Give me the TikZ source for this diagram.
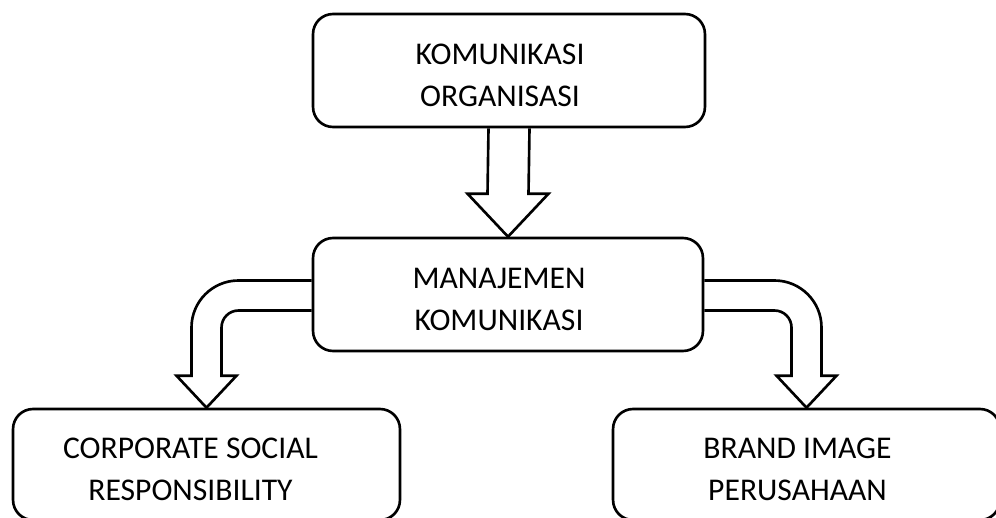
\documentclass[tikz,border=0pt]{standalone}
\usepackage{fontspec}
\setmainfont{Carlito}
\usetikzlibrary{calc}
\tikzset{
  box/.style={draw, line width=1.5pt, rounded corners=0.4cm},
  boxtext/.style={align=center, xshift=-0.18cm, yshift=-0.1cm, font=\fontsize{18}{24}\selectfont},
  blockarrow/.style={draw, line width=1.5pt, line join=miter}
}
\begin{document}
\begin{tikzpicture}[x=0.02cm, y=-0.02cm]
  \useasboundingbox (0,0) rectangle (996,517);
  \clip (0,0) rectangle (996,517);

  \node[box, minimum width=7.84cm, minimum height=2.26cm, label={[boxtext]center:KOMUNIKASI\\ORGANISASI}] (komorg) at (509,70.5) {};
  \node[box, minimum width=7.8cm, minimum height=2.26cm, label={[boxtext]center:MANAJEMEN\\KOMUNIKASI}] (manajemen) at (508,294.5) {};
  \node[box, minimum width=7.74cm, minimum height=2.22cm, label={[boxtext, xshift=-0.14cm]center:CORPORATE SOCIAL\\RESPONSIBILITY}] (csr) at (206.5,464.5) {};
  \node[box, minimum width=7.74cm, minimum height=2.22cm, label={[boxtext]center:BRAND IMAGE\\PERUSAHAAN}] (brand) at (806.5,464.5) {};

  % straight arrow
  \draw[blockarrow] ($(komorg.south)+(-20.5,0)$) -- ($(manajemen.north)+(-20.5,-43)$)
    -- ++(-20,0) -- (manajemen.north) -- ($(manajemen.north)+(40.5,-43)$)
    -- ++(-20,0) -- ($(komorg.south)+(20.5,0)$);

  % bent arrows
  \coordinate (lout) at ($(manajemen.west)+(0,-14)$);
  \coordinate (lbase) at ($(csr.north)+(-15,-32)$);
  \draw[blockarrow] (lout) [rounded corners=0.94cm] -- (lout -| lbase) [sharp corners] -- (lbase)
    -- ++(-15,0) -- (csr.north) -- ++(30,-32) -- ++(-15,0)
    [rounded corners=0.34cm] |- ($(manajemen.west)+(0,16)$);
  \coordinate (rout) at ($(manajemen.east)+(0,-14)$);
  \coordinate (rbase) at ($(brand.north)+(15,-32)$);
  \draw[blockarrow] (rout) [rounded corners=0.94cm] -- (rout -| rbase) [sharp corners] -- (rbase)
    -- ++(15,0) -- (brand.north) -- ++(-30,-32) -- ++(15,0)
    [rounded corners=0.34cm] |- ($(manajemen.east)+(0,16)$);
\end{tikzpicture}
\end{document}
